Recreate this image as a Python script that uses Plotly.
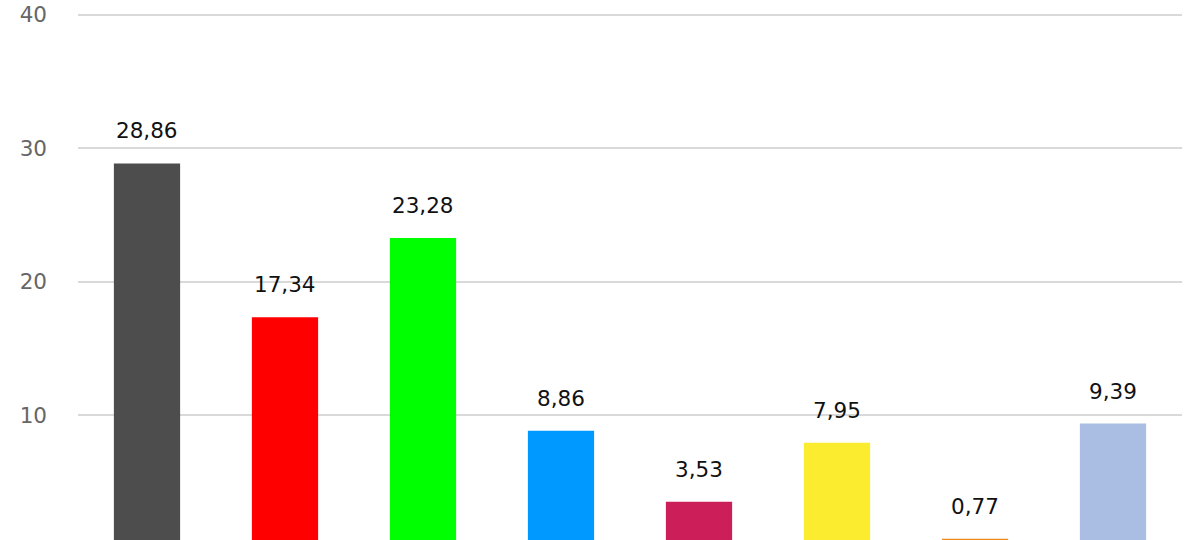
import plotly.graph_objects as go

categories = ["A", "B", "C", "D", "E", "F", "G", "H"]
values = [28.86, 17.34, 23.28, 8.86, 3.53, 7.95, 0.77, 9.39]
colors = ["#4d4d4d", "#ff0000", "#00ff00", "#0099ff",
          "#cc1f5a", "#fbec30", "#f08a1c", "#aabde3"]
y_ticks = [0, 10, 20, 30, 40]

fig = go.Figure()
fig.add_trace(
    go.Bar(x=categories, y=values, marker=dict(color=colors, line=dict(width=0)),
           hoverinfo="skip")
)

for c, v in zip(categories, values):
    fig.add_annotation(
        x=c, y=v, text=f"{v:.2f}".replace(".", ","),
        showarrow=False, yanchor="bottom", yshift=18,
        font=dict(family="DejaVu Sans", size=21.5, color="#111111"),
    )

fig.update_layout(
    width=1200,
    height=580,
    margin=dict(l=78, r=18, t=8, b=31, autoexpand=False),
    paper_bgcolor="white",
    plot_bgcolor="white",
    bargap=0.52,
    showlegend=False,
    xaxis=dict(type="category", showticklabels=False, showgrid=False,
               zeroline=False, showline=False, ticks="", automargin=False),
    yaxis=dict(range=[0, 40.5], tickvals=y_ticks, showgrid=True,
               gridcolor="#d9d9d9", gridwidth=2, zeroline=False,
               showline=False, ticks="", ticklabelstandoff=30, automargin=False,
               tickfont=dict(family="DejaVu Sans", size=21.5, color="#666666")),
)

fig.write_html(
    "out.html",
    config={"displayModeBar": False},
    post_script="document.body.style.margin='0';document.body.style.overflow='hidden';",
)
